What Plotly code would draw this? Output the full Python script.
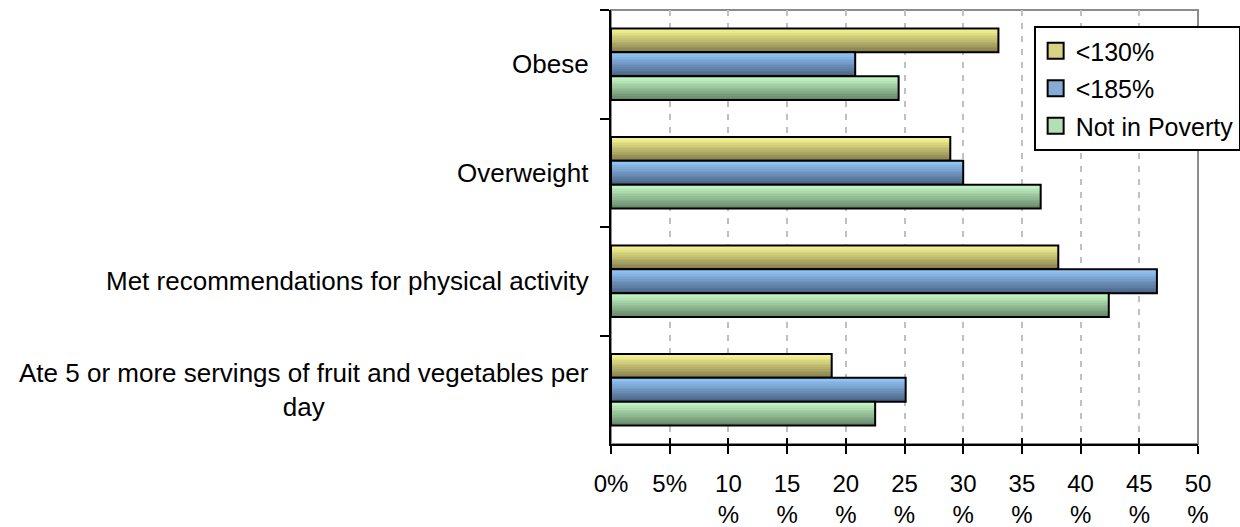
import plotly.graph_objects as go

# Survey outcomes by income level (percent of respondents)
categories = [
    "Obese",
    "Overweight",
    "Met recommendations for physical activity",
    "Ate 5 or more servings of fruit and vegetables per<br>day",
]
series_names = ["<130%", "<185%", "Not in Poverty"]
pct_below_130 = [33.0, 28.9, 38.1, 18.8]
pct_below_185 = [20.8, 30.0, 46.5, 25.1]
pct_not_in_poverty = [24.5, 36.6, 42.4, 22.5]

x_tick_values = [0, 5, 10, 15, 20, 25, 30, 35, 40, 45, 50]
x_tick_labels = ["0%", "5%", "10<br>%", "15<br>%", "20<br>%", "25<br>%",
                 "30<br>%", "35<br>%", "40<br>%", "45<br>%", "50<br>%"]

series_values = [pct_below_130, pct_below_185, pct_not_in_poverty]
# light (top) and dark (bottom) shades of each bar's vertical gradient
top_colors = [(252, 252, 150), (150, 202, 252), (202, 252, 204)]
bottom_colors = [(136, 128, 78), (76, 102, 136), (104, 138, 106)]
legend_colors = ["#d6d286", "#86acd6", "#b4dfb6"]

FONT = "Liberation Sans, Arial, sans-serif"
LABEL_SIZE = 26
TICK_SIZE = 24
BAR_W = 0.22
GROUP_START = -0.33
SLICES = 14

fig = go.Figure()

for s, (vals, c_top, c_bot) in enumerate(zip(series_values, top_colors, bottom_colors)):
    base_off = GROUP_START + s * BAR_W
    step = BAR_W / SLICES
    for k in range(SLICES):
        t = k / (SLICES - 1)
        r, g, b = (round(c_top[i] + (c_bot[i] - c_top[i]) * t) for i in range(3))
        fig.add_trace(go.Bar(
            x=vals, y=categories, orientation="h",
            width=step * 1.08, offset=base_off + k * step,
            marker=dict(color=f"rgb({r},{g},{b})", line=dict(width=0)),
            showlegend=False, hoverinfo="skip",
        ))
    # black outline on top of the gradient slices
    fig.add_trace(go.Bar(
        x=vals, y=categories, orientation="h",
        width=BAR_W, offset=base_off,
        marker=dict(color="rgba(0,0,0,0)", line=dict(color="black", width=2)),
        showlegend=False, name=series_names[s],
    ))

# legend entries (square swatches)
for s, name in enumerate(series_names):
    fig.add_trace(go.Scatter(
        x=[None], y=[categories[0]], mode="markers", name=name,
        marker=dict(symbol="square", size=17, color=legend_colors[s],
                    line=dict(color="black", width=2)),
        legendgroup=name,
    ))

for cat in categories:
    fig.add_annotation(
        x=0, xref="paper", y=cat, yref="y", text=cat,
        xanchor="right", yanchor="middle", align="center", xshift=-20,
        showarrow=False, font=dict(family=FONT, size=LABEL_SIZE, color="black"),
    )

fig.update_layout(
    width=1240, height=527,
    margin=dict(l=611, r=42, t=10, b=83, autoexpand=False),
    paper_bgcolor="white", plot_bgcolor="white",
    barmode="overlay",
    font=dict(family=FONT, size=LABEL_SIZE, color="black"),
    legend=dict(
        x=0.72, y=0.963, xanchor="left", yanchor="top",
        bgcolor="white", bordercolor="black", borderwidth=2,
        font=dict(family=FONT, size=25, color="black"),
        traceorder="grouped", tracegroupgap=2, itemwidth=30,
    ),
    xaxis=dict(
        range=[0, 50], tickvals=x_tick_values, ticktext=x_tick_labels,
        showgrid=True, gridcolor="#c0c0c0", gridwidth=2, griddash="6px,7px",
        showline=True, linecolor="black", linewidth=2,
        ticks="outside", ticklen=8, tickwidth=2, tickcolor="black",
        ticklabelstandoff=9,
        tickfont=dict(family=FONT, size=TICK_SIZE, color="black"),
        zeroline=False, fixedrange=True,
    ),
    xaxis2=dict(
        overlaying="x", matches="x", side="bottom", range=[0, 50],
        tickvals=x_tick_values, showticklabels=False, showgrid=False,
        ticks="inside", ticklen=6, tickwidth=2, tickcolor="black",
        showline=False, zeroline=False,
    ),
    yaxis=dict(
        type="category", categoryorder="array", categoryarray=categories,
        autorange="reversed", showticklabels=False,
        showline=True, linecolor="black", linewidth=2,
        ticks="outside", ticklen=9, tickwidth=2, tickcolor="black",
        tickson="boundaries", showgrid=False, zeroline=False,
    ),
    shapes=[dict(type="rect", xref="paper", yref="paper", x0=0, x1=1, y0=0, y1=1,
                 line=dict(color="#8c8c8c", width=2), layer="below")],
)

# invisible trace so the inner-tick axis is drawn
fig.add_trace(go.Scatter(x=[0, 50], y=[categories[0], categories[0]], xaxis="x2",
                         mode="markers", marker=dict(opacity=0), showlegend=False,
                         hoverinfo="skip"))

fig.write_html("out.html")
